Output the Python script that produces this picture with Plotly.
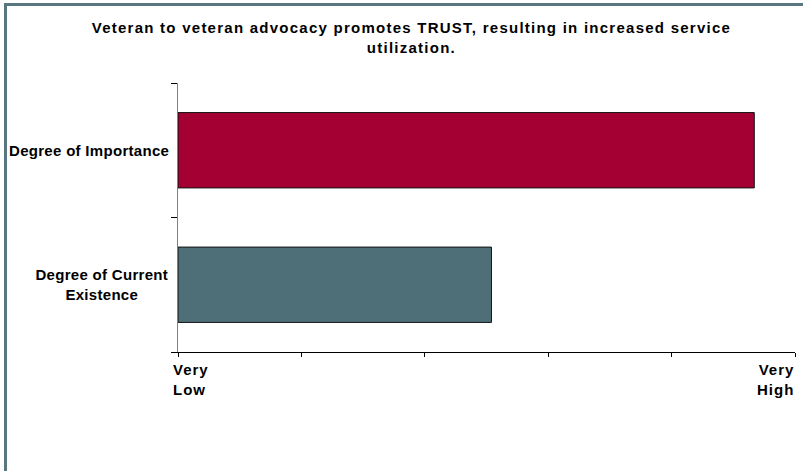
import plotly.graph_objects as go

# Data
categories = ["Degree of Importance", "Degree of Current<br>Existence"]
values = [4.67, 2.54]
positions = [1, 0]
bar_colors = ["#A50034", "#4F6F78"]
x_tick_labels = {0: "Very<br>Low", 5: "Very<br>High"}
title_text = "Veteran to veteran advocacy promotes TRUST, resulting in increased service<br>utilization."

FONT = "Liberation Sans, Arial, sans-serif"

W, H = 803, 471
L, R, T, B = 178, 8, 83, 119
pw, ph = W - L - R, H - T - B


def px_x(p):
    return (p - L) / pw


def px_y(p):
    return 1 - (p - T) / ph


fig = go.Figure()
fig.add_trace(go.Bar(
    x=values,
    y=positions,
    orientation="h",
    width=0.56,
    marker=dict(color=bar_colors, line=dict(color="#111111", width=1)),
    hoverinfo="skip",
))

annotations = []
spacings = []
# title
annotations.append(dict(
    text=f"<b>{title_text}</b>", x=px_x(411), xref="paper", y=px_y(37), yref="paper",
    xanchor="center", yanchor="middle", align="center", showarrow=False,
    font=dict(family=FONT, size=15, color="#000000"),
))
spacings.append(1.25)
for cat, pos in zip(categories, positions):
    annotations.append(dict(
        text=f"<b>{cat}</b>", x=px_x(168), xref="paper", y=pos, yref="y",
        xanchor="right", yanchor="middle", align="center", showarrow=False,
        font=dict(family=FONT, size=15, color="#000000"),
    ))
    spacings.append(0.3)
for xv, lab in x_tick_labels.items():
    annotations.append(dict(
        text=f"<b>{lab}</b>", x=xv, xref="x", y=0, yref="paper",
        xanchor="left" if xv == 0 else "right", yanchor="top",
        align="left" if xv == 0 else "right",
        xshift=-7 if xv == 0 else 2, yshift=-7, showarrow=False,
        font=dict(family=FONT, size=15, color="#000000"),
    ))
    spacings.append(1.0)

border_color = "#5a767e"
shapes = [
    dict(type="line", xref="paper", yref="paper",
         x0=px_x(5.5), x1=px_x(5.5), y0=px_y(3), y1=px_y(480),
         line=dict(color=border_color, width=3)),
    dict(type="line", xref="paper", yref="paper",
         x0=px_x(4), x1=px_x(810), y0=px_y(4.5), y1=px_y(4.5),
         line=dict(color=border_color, width=3)),
]

fig.update_layout(
    width=W, height=H,
    margin=dict(l=L, r=R, t=T, b=B, pad=0),
    paper_bgcolor="white", plot_bgcolor="white",
    showlegend=False,
    xaxis=dict(
        range=[0, 5], tickmode="array", tickvals=list(range(6)),
        ticks="outside", ticklen=4, tickcolor="#000000", tickwidth=1,
        showline=True, linecolor="#000000", linewidth=1,
        showgrid=False, zeroline=False, showticklabels=False, fixedrange=True,
    ),
    yaxis=dict(
        range=[-0.5, 1.5], tickmode="array", tickvals=[-0.5, 0.5, 1.5],
        ticks="outside", ticklen=6, tickcolor="#000000", tickwidth=1,
        showline=True, linecolor="#808080", linewidth=1,
        showgrid=False, zeroline=False, showticklabels=False, fixedrange=True,
    ),
    annotations=annotations,
    shapes=shapes,
    bargap=0.44,
)

post = (
    "document.body.style.margin='0';document.body.style.overflow='hidden';"
    "var sp=%s;" % str(spacings) +
    "document.querySelectorAll('g.annotation').forEach(function(g){"
    "var i=parseInt(g.getAttribute('data-index'));"
    "var t=g.querySelector('text.annotation-text');"
    "if(t&&!isNaN(i)){t.style.letterSpacing=sp[i]+'px';}});"
)

fig.write_html("out.html", post_script=post, config={"displayModeBar": False})
